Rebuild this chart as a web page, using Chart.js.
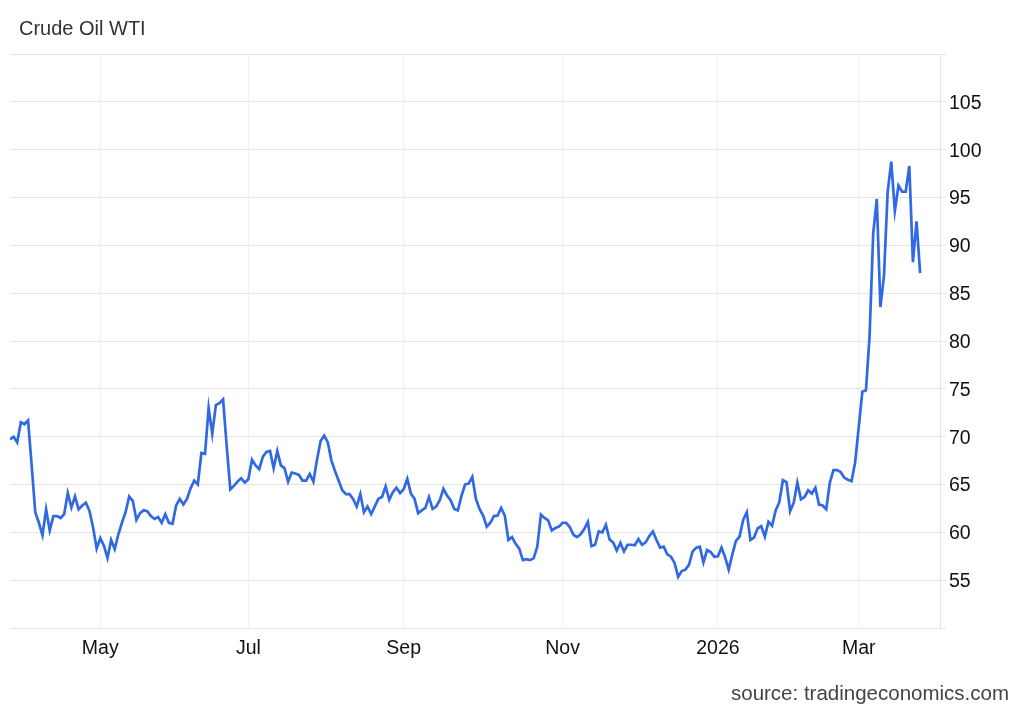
<!DOCTYPE html>
<html>
<head>
<meta charset="utf-8">
<script src="https://cdn.jsdelivr.net/npm/chart.js@4.4.1/dist/chart.umd.min.js"></script>
<style>
  html, body { margin: 0; padding: 0; background: #ffffff; }
  #wrap { position: relative; width: 1024px; height: 710px; }
</style>
</head>
<body>
<div id="wrap"><canvas id="c"></canvas></div>
<script>
const chartTitle = "Crude Oil WTI";
const sourceText = "source: tradingeconomics.com";

// Daily closes (trading days), grouped by month
const monthKeys = ["2025-03","2025-04","2025-05","2025-06","2025-07","2025-08","2025-09","2025-10","2025-11","2025-12","2026-01","2026-02","2026-03"];
const mar2025 = [69.7, 70.0, 69.4, 71.5];
const apr2025 = [71.3, 71.7, 67.0, 62.1, 61.0, 59.7, 62.4, 60.2, 61.7, 61.7, 61.5, 61.9, 64.1, 62.6, 63.75, 62.4, 62.8, 63.1, 62.25, 60.5, 58.3];
const may2025 = [59.4, 58.6, 57.3, 59.2, 58.25, 59.8, 61.0, 62.1, 63.75, 63.3, 61.3, 62.0, 62.3, 62.2, 61.7, 61.4, 61.6, 61.0, 61.9, 61.0, 60.9];
const jun2025 = [62.8, 63.5, 62.9, 63.5, 64.6, 65.4, 65.0, 68.3, 68.2, 73.0, 70.3, 73.3, 73.5, 73.9, 69.0, 64.5, 64.85, 65.3, 65.65, 65.2];
const jul2025 = [65.55, 67.6, 67.0, 66.6, 67.9, 68.4, 68.5, 66.7, 68.5, 67.0, 66.7, 65.3, 66.25, 66.15, 66.0, 65.4, 65.4, 66.1, 65.3, 67.6, 69.55, 70.1];
const aug2025 = [69.4, 67.5, 66.4, 65.4, 64.4, 64.0, 64.0, 63.5, 62.7, 64.0, 62.1, 62.7, 61.9, 62.7, 63.5, 63.7, 64.8, 63.4, 64.2, 64.65, 64.1];
const sep2025 = [64.5, 65.6, 64.05, 63.5, 62.0, 62.3, 62.55, 63.7, 62.45, 62.7, 63.35, 64.55, 63.85, 63.35, 62.45, 62.3, 63.8, 65.0, 65.1, 65.8, 63.5];
const oct2025 = [62.45, 61.75, 60.6, 61.0, 61.7, 61.75, 62.55, 61.75, 59.2, 59.5, 58.8, 58.3, 57.1, 57.2, 57.1, 57.3, 58.5, 61.85, 61.5, 61.25, 60.2, 60.45, 60.6];
const nov2025 = [61.0, 61.0, 60.55, 59.75, 59.5, 59.8, 60.35, 61.1, 58.55, 58.7, 60.1, 60.0, 60.8, 59.25, 58.95, 58.1, 58.9, 58.0, 58.7];
const dec2025 = [58.7, 58.65, 59.3, 58.7, 58.95, 59.6, 60.1, 59.2, 58.4, 58.5, 57.7, 57.45, 56.8, 55.35, 55.95, 56.1, 56.6, 58.0, 58.4, 58.5, 56.85, 58.15, 57.95, 57.45];
const jan2026 = [57.5, 58.4, 57.4, 56.1, 57.7, 59.1, 59.55, 61.3, 62.1, 59.2, 59.45, 60.4, 60.65, 59.55, 61.1, 60.7, 62.3, 63.15, 65.45, 65.25];
const feb2026 = [62.2, 63.1, 65.2, 63.45, 63.7, 64.4, 64.05, 64.65, 62.9, 62.8, 62.4, 65.2, 66.5, 66.5, 66.3, 65.7, 65.5, 65.35, 67.3];
const mar2026 = [71.0, 74.7, 74.85, 80.5, 91.2, 94.85, 83.55, 86.85, 95.55, 98.75, 93.6, 96.25, 95.6, 95.6, 98.3, 88.25, 92.5, 87.1];

// Axis labels
const tickMonthKeys = ["2025-05","2025-07","2025-09","2025-11","2026-01","2026-03"];
const tickLabels = ["May","Jul","Sep","Nov","2026","Mar"];
const yMin = 50, yMax = 110, yStep = 5;
const yHiddenLabels = [50, 110];

// Build the series from the monthly arrays
const monthSeries = [mar2025, apr2025, may2025, jun2025, jul2025, aug2025, sep2025, oct2025, nov2025, dec2025, jan2026, feb2026, mar2026];
const values = [];
const monthStart = {};
monthSeries.forEach((arr, m) => {
  monthStart[monthKeys[m]] = values.length;
  arr.forEach(v => values.push(v));
});
const points = values.map((v, i) => ({ x: i, y: v }));
const tickPositions = tickMonthKeys.map(k => monthStart[k]);

const FONT = '"Liberation Sans", Arial, Helvetica, sans-serif';

const textPlugin = {
  id: 'headerFooter',
  afterDraw(chart) {
    const ctx = chart.ctx;
    ctx.save();
    ctx.font = '20px ' + FONT;
    ctx.fillStyle = '#333333';
    ctx.textAlign = 'left';
    ctx.textBaseline = 'alphabetic';
    ctx.fillText(chartTitle, 19, 34.5);
    ctx.font = '20.5px ' + FONT;
    ctx.fillStyle = '#444444';
    ctx.textAlign = 'right';
    ctx.fillText(sourceText, 1009, 700);
    ctx.restore();
  }
};

new Chart(document.getElementById('c'), {
  type: 'line',
  data: {
    datasets: [{
      label: chartTitle,
      data: points,
      borderColor: '#3168e4',
      borderWidth: 2.7,
      pointRadius: 0,
      pointHoverRadius: 0,
      tension: 0,
      fill: false
    }]
  },
  options: {
    responsive: true,
    maintainAspectRatio: false,
    animation: false,
    layout: { padding: { top: 54, left: 10, right: 0, bottom: 0 } },
    plugins: {
      legend: { display: false },
      tooltip: { enabled: false },
      title: { display: false }
    },
    scales: {
      x: {
        type: 'linear',
        min: 0,
        max: values.length - 1 + 5.5,
        afterBuildTicks(scale) {
          scale.ticks = tickPositions.map(v => ({ value: v }));
        },
        afterFit(scale) { scale.height = 82; },
        ticks: {
          autoSkip: false,
          maxRotation: 0,
          minRotation: 0,
          padding: 9,
          color: '#111111',
          font: { family: FONT, size: 19.5 },
          callback(value) {
            const k = tickPositions.indexOf(value);
            return k >= 0 ? tickLabels[k] : null;
          }
        },
        grid: { color: '#edf0f5', lineWidth: 1, drawTicks: false },
        border: { display: false }
      },
      y: {
        position: 'right',
        min: yMin,
        max: yMax,
        afterFit(scale) { scale.width = 84; },
        ticks: {
          stepSize: yStep,
          padding: 3,
          labelOffset: 1.5,
          color: '#111111',
          font: { family: FONT, size: 19.5 },
          callback(value) {
            return yHiddenLabels.includes(value) ? '' : String(value);
          }
        },
        grid: { color: '#e4e4e4', lineWidth: 1, drawTicks: true, tickLength: 6 },
        border: { display: true, color: '#e4e4e4', width: 1 }
      }
    }
  },
  plugins: [textPlugin]
});
</script>
</body>
</html>
